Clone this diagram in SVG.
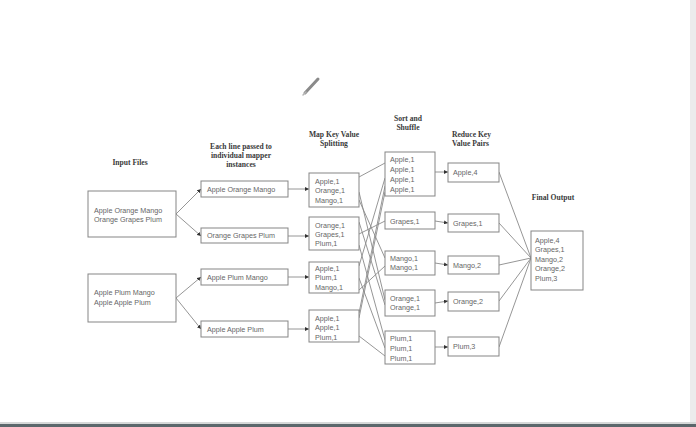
<svg xmlns="http://www.w3.org/2000/svg" width="696" height="427" viewBox="0 0 696 427">
  <style>
    .box { fill: #ffffff; stroke: #858585; stroke-width: 1; }
    .t { font-family: "Liberation Sans", Arial, sans-serif; font-size: 7.2px; fill: #666666; }
    .h { font-family: "Liberation Serif", "Times New Roman", serif; font-size: 7.6px; font-weight: bold; fill: #3a3a3a; }
    .c { fill: none; stroke: #8a8a8a; stroke-width: 0.9; }
    .ca { marker-end: url(#tip); }
    .layer { opacity: 0.995; }
  </style>
  <defs>
    <marker id="tip" viewBox="0 0 6 6" refX="6" refY="3" markerWidth="4" markerHeight="4" orient="auto" markerUnits="userSpaceOnUse">
      <path d="M0,0 L6,3 L0,6 Z" fill="#333"/>
    </marker>
  </defs>

  <rect width="696" height="427" fill="#ffffff"/>
  <!-- window edges -->
  <rect x="690" y="0" width="6" height="424" fill="#ececec"/>
  <rect x="0" y="422" width="696" height="2" fill="#d6d8d8"/>
  <rect x="0" y="424" width="696" height="3" fill="#5b676b"/>

  <!-- pencil cursor -->
  <g id="pencil">
    <line x1="305" y1="93" x2="318" y2="79" stroke="#8a8a8a" stroke-width="3" stroke-linecap="round"/>
    <line x1="303" y1="95" x2="306" y2="92" stroke="#b5b5b5" stroke-width="1.5" stroke-linecap="round"/>
  </g>

  <g class="layer">
  <!-- column headings -->
  <g id="headings">
    <text class="h" x="130" y="164.5" text-anchor="middle">Input Files</text>
    <text class="h" x="241" y="148.5" text-anchor="middle">Each line passed to</text>
    <text class="h" x="241" y="157.5" text-anchor="middle">individual mapper</text>
    <text class="h" x="241" y="166.5" text-anchor="middle">instances</text>
    <text class="h" x="334" y="136.5" text-anchor="middle">Map Key Value</text>
    <text class="h" x="334" y="145.5" text-anchor="middle">Splitting</text>
    <text class="h" x="408" y="120.5" text-anchor="middle">Sort and</text>
    <text class="h" x="408" y="129.5" text-anchor="middle">Shuffle</text>
    <text class="h" x="452" y="136.5">Reduce Key</text>
    <text class="h" x="452" y="145.5">Value Pairs</text>
    <text class="h" x="553" y="199.5" text-anchor="middle">Final Output</text>
  </g>

  <!-- connectors -->
  <g id="connectors">
    <!-- input files to lines -->
    <path class="c ca" d="M176,214 L201,189"/>
    <path class="c ca" d="M176,214 L201,236"/>
    <path class="c ca" d="M176,298 L201,277"/>
    <path class="c ca" d="M176,298 L201,329"/>
    <!-- lines to mappers -->
    <path class="c ca" d="M288,189 L309,189"/>
    <path class="c ca" d="M288,236 L309,236"/>
    <path class="c ca" d="M288,277 L309,277"/>
    <path class="c ca" d="M288,329 L309,329"/>
    <!-- shuffle -->
    <path class="c" d="M359,177 L385,163"/>
    <path class="c" d="M359,192 L385,300"/>
    <path class="c" d="M359,200 L385,258"/>
    <path class="c" d="M359,222 L385,305"/>
    <path class="c" d="M359,234 L385,221"/>
    <path class="c" d="M359,245 L385,340"/>
    <path class="c" d="M359,266 L385,178"/>
    <path class="c" d="M359,278 L385,348"/>
    <path class="c" d="M359,290 L385,266"/>
    <path class="c" d="M359,313 L385,186"/>
    <path class="c" d="M359,318 L385,192"/>
    <path class="c" d="M359,336 L385,356"/>
    <!-- sorted to reducers -->
    <path class="c ca" d="M435,172 L448,172"/>
    <path class="c ca" d="M435,221 L448,223"/>
    <path class="c ca" d="M435,263 L448,265"/>
    <path class="c ca" d="M435,303 L448,301"/>
    <path class="c ca" d="M435,347 L448,347"/>
    <!-- reducers to final output -->
    <path class="c" d="M499,172 L531,258"/>
    <path class="c" d="M499,223 L531,258"/>
    <path class="c" d="M499,265 L531,258"/>
    <path class="c" d="M499,301 L531,258"/>
    <path class="c" d="M499,347 L531,258"/>
  </g>

  <!-- input files -->
  <g id="input1">
    <rect class="box" x="88" y="191" width="88" height="46"/>
    <text class="t" x="94" y="212.5">Apple Orange Mango</text>
    <text class="t" x="94" y="222">Orange Grapes Plum</text>
  </g>
  <g id="input2">
    <rect class="box" x="88" y="274" width="88" height="48"/>
    <text class="t" x="94" y="295">Apple Plum Mango</text>
    <text class="t" x="94" y="304.5">Apple Apple Plum</text>
  </g>

  <!-- lines -->
  <g id="line1">
    <rect class="box" x="201" y="181" width="87" height="16"/>
    <text class="t" x="207" y="191.5">Apple Orange Mango</text>
  </g>
  <g id="line2">
    <rect class="box" x="201" y="228" width="87" height="15"/>
    <text class="t" x="207" y="238">Orange Grapes Plum</text>
  </g>
  <g id="line3">
    <rect class="box" x="201" y="269" width="87" height="16"/>
    <text class="t" x="207" y="279.5">Apple Plum Mango</text>
  </g>
  <g id="line4">
    <rect class="box" x="201" y="321" width="87" height="16"/>
    <text class="t" x="207" y="331.5">Apple Apple Plum</text>
  </g>

  <!-- mappers -->
  <g id="map1">
    <rect class="box" x="309" y="173" width="50" height="34"/>
    <text class="t" x="315" y="183.5">Apple,1</text>
    <text class="t" x="315" y="193">Orange,1</text>
    <text class="t" x="315" y="202.5">Mango,1</text>
  </g>
  <g id="map2">
    <rect class="box" x="309" y="217" width="50" height="33"/>
    <text class="t" x="315" y="227.5">Orange,1</text>
    <text class="t" x="315" y="237">Grapes,1</text>
    <text class="t" x="315" y="246">Plum,1</text>
  </g>
  <g id="map3">
    <rect class="box" x="309" y="262" width="50" height="31"/>
    <text class="t" x="315" y="270.5">Apple,1</text>
    <text class="t" x="315" y="280">Plum,1</text>
    <text class="t" x="315" y="290">Mango,1</text>
  </g>
  <g id="map4">
    <rect class="box" x="309" y="310" width="50" height="32"/>
    <text class="t" x="315" y="320.5">Apple,1</text>
    <text class="t" x="315" y="330">Apple,1</text>
    <text class="t" x="315" y="340">Plum,1</text>
  </g>

  <!-- sorted groups -->
  <g id="sortApple">
    <rect class="box" x="385" y="152" width="50" height="44"/>
    <text class="t" x="390" y="161.5">Apple,1</text>
    <text class="t" x="390" y="171.5">Apple,1</text>
    <text class="t" x="390" y="181.5">Apple,1</text>
    <text class="t" x="390" y="191.5">Apple,1</text>
  </g>
  <g id="sortGrapes">
    <rect class="box" x="385" y="212" width="50" height="17"/>
    <text class="t" x="390" y="223.5">Grapes,1</text>
  </g>
  <g id="sortMango">
    <rect class="box" x="385" y="251" width="50" height="24"/>
    <text class="t" x="390" y="260.5">Mango,1</text>
    <text class="t" x="390" y="269.5">Mango,1</text>
  </g>
  <g id="sortOrange">
    <rect class="box" x="385" y="290" width="50" height="26"/>
    <text class="t" x="390" y="300.5">Orange,1</text>
    <text class="t" x="390" y="309.5">Orange,1</text>
  </g>
  <g id="sortPlum">
    <rect class="box" x="385" y="331" width="50" height="33"/>
    <text class="t" x="390" y="340.5">Plum,1</text>
    <text class="t" x="390" y="350.5">Plum,1</text>
    <text class="t" x="390" y="360.5">Plum,1</text>
  </g>

  <!-- reducers -->
  <g id="redApple">
    <rect class="box" x="448" y="163" width="51" height="19"/>
    <text class="t" x="453" y="175">Apple,4</text>
  </g>
  <g id="redGrapes">
    <rect class="box" x="448" y="214" width="51" height="18"/>
    <text class="t" x="453" y="225.5">Grapes,1</text>
  </g>
  <g id="redMango">
    <rect class="box" x="448" y="256" width="51" height="18"/>
    <text class="t" x="453" y="267.5">Mango,2</text>
  </g>
  <g id="redOrange">
    <rect class="box" x="448" y="292" width="51" height="19"/>
    <text class="t" x="453" y="304">Orange,2</text>
  </g>
  <g id="redPlum">
    <rect class="box" x="448" y="337" width="51" height="19"/>
    <text class="t" x="453" y="349">Plum,3</text>
  </g>

  <!-- final output -->
  <g id="final">
    <rect class="box" x="531" y="231" width="52" height="59"/>
    <text class="t" x="535" y="242.5">Apple,4</text>
    <text class="t" x="535" y="252">Grapes,1</text>
    <text class="t" x="535" y="261.5">Mango,2</text>
    <text class="t" x="535" y="271">Orange,2</text>
    <text class="t" x="535" y="281">Plum,3</text>
  </g>
  </g>
</svg>
